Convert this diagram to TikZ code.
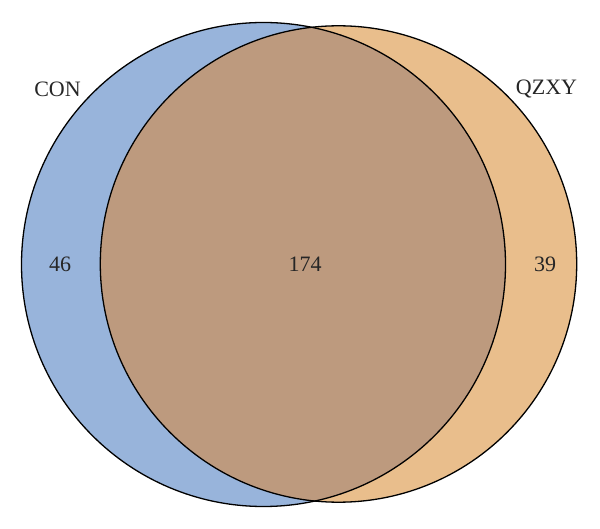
\documentclass[tikz,border=0pt]{standalone}
\usepackage{fontspec}
\setmainfont{Liberation Serif}
\definecolor{conblue}{RGB}{152,180,219}
\definecolor{qzorange}{RGB}{233,190,140}
\definecolor{overlap}{RGB}{189,154,126}
\tikzset{
  outline/.style={draw=black, line width=1.3pt},
  lbl/.style={font=\fontsize{22}{26}\selectfont, text=black!85, inner sep=0pt},
}
\begin{document}
\begin{tikzpicture}[x=1pt,y=-1pt]
\useasboundingbox (0,0) rectangle (600,529);
\coordinate (cb) at (263.5,264.5);
\coordinate (co) at (338.5,264);
\fill[conblue] (cb) circle[radius=242];
\fill[qzorange] (co) circle[radius=238.2];
\begin{scope}
  \clip (cb) circle[radius=242];
  \fill[overlap] (co) circle[radius=238.2];
\end{scope}
\draw[outline] (cb) circle[radius=242];
\draw[outline] (co) circle[radius=238.2];
\node[lbl] (con) at (57.5,89) {CON};
\node[lbl] (qzxy) at (546.5,89) {QZXY};
\node[lbl] (a) at (60,264) {46};
\node[lbl] (b) at (305,264) {174};
\node[lbl] (c) at (545,264) {39};
\end{tikzpicture}
\end{document}
